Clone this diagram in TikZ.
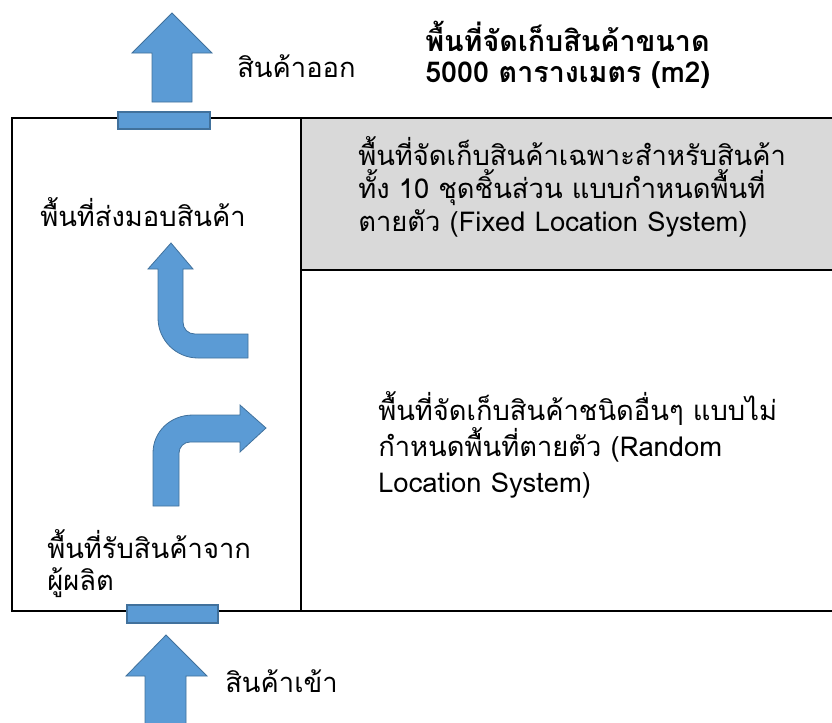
\documentclass[tikz,border=0pt]{standalone}
\usepackage{fontspec}
\setmainfont[Script=Thai]{Loma}
\definecolor{arrowblue}{HTML}{5B9BD5}
\definecolor{arrowedge}{HTML}{41719C}
\definecolor{graybox}{HTML}{D9D9D9}
\begin{document}
\begin{tikzpicture}[x=0.75pt,y=-0.75pt,
  blk/.style={draw=black,line width=1.1pt},
  barrow/.style={fill=arrowblue,draw=arrowedge,line width=0.6pt},
  door/.style={fill=arrowblue,draw=arrowedge,line width=0.8pt},
  lbl/.style={anchor=base west,inner sep=0pt,font=\fontsize{20.5}{25}\selectfont,align=left},
  ttl/.style={anchor=base west,inner sep=0pt,font=\bfseries\fontsize{21.5}{23}\selectfont,align=left}]
\useasboundingbox (0,0) rectangle (832,722);
% areas
\fill[graybox] (301,118) rectangle (840,270);
\draw[blk] (840,118) -- (12,118) -- (12,611) -- (840,611);
\draw[blk] (301,118) -- (301,611);
\draw[blk] (301,270) -- (840,270);
% doors
\draw[door] (118,112) rectangle (210,129);
\draw[door] (127,605) rectangle (218,623);
% outgoing arrow
\draw[barrow] (152,102) -- (152,53) -- (132,53) -- (172,13) -- (212,53) -- (192,53) -- (192,102) -- cycle;
% incoming arrow
\draw[barrow] (145,730) -- (145,676) -- (126,676) -- (166,635) -- (207,676) -- (186,676) -- (186,730) -- cycle;
% turn-up arrow
\draw[barrow] (158,269) -- (148,269) -- (171,243) -- (193,269) -- (183,269) -- (183,322)
  .. controls (183,329) and (188,334) .. (195,334) -- (248,334) -- (248,358) -- (198,358)
  .. controls (176,358) and (158,340) .. (158,318) -- cycle;
% turn-right arrow
\draw[barrow] (153,506) -- (153,453) .. controls (153,432) and (170,415) .. (193,415)
  -- (240,415) -- (240,405) -- (266,428) -- (240,452) -- (240,442) -- (190,442)
  .. controls (184,442) and (179,447) .. (179,453) -- (179,506) -- cycle;
% texts (base anchor = baseline of last line)
\node[lbl] (out) at (237,77) {สินค้าออก};
\node[ttl] (title) at (425,82) {พื้นที่จัดเก็บสินค้าขนาด\\5000 ตารางเมตร (m2)};
\node[lbl,font=\fontsize{20.5}{24.5}\selectfont] (fixed) at (358,231) {พื้นที่จัดเก็บสินค้าเฉพาะสำหรับสินค้า\\ทั้ง 10 ชุดชิ้นส่วน แบบกำหนดพื้นที่\\ตายตัว (Fixed Location System)};
\node[lbl] (deliver) at (40,226) {พื้นที่ส่งมอบสินค้า};
\node[lbl,font=\fontsize{20.5}{27}\selectfont] (random) at (378,492) {พื้นที่จัดเก็บสินค้าชนิดอื่นๆ แบบไม่\\กำหนดพื้นที่ตายตัว (Random\\Location System)};
\node[lbl,font=\fontsize{20.5}{24}\selectfont] (receive) at (47,590) {พื้นที่รับสินค้าจาก\\ผู้ผลิต};
\node[lbl] (in) at (225,692) {สินค้าเข้า};
\end{tikzpicture}
\end{document}
